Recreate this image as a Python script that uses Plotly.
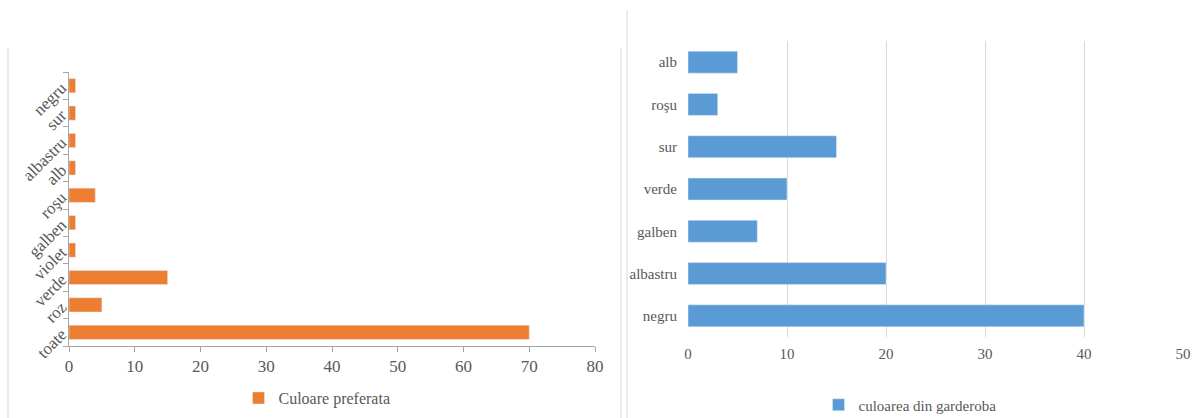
import plotly.graph_objects as go

# left chart data (bottom to top)
pref_cats = ['toate', 'roz', 'verde', 'violet', 'galben', 'roşu', 'alb', 'albastru', 'sur', 'negru']
pref_vals = [70, 5, 15, 1, 1, 4, 1, 1, 1, 1]

# right chart data (bottom to top)
gard_cats = ['negru', 'albastru', 'galben', 'verde', 'sur', 'roşu', 'alb']
gard_vals = [40, 20, 7, 10, 15, 3, 5]

W, H = 1193, 418
txt = '#595959'
serif = 'Liberation Serif, serif'
fnt = dict(family=serif, size=15, color=txt)
left_fnt = dict(family=serif, size=17, color=txt)
leg_fnt = dict(family=serif, size=16, color=txt)
leg2_fnt = dict(family=serif, size=15, color=txt)

fig = go.Figure()

fig.add_trace(go.Bar(
    x=pref_vals, y=pref_cats, orientation='h',
    marker_color='#ED7D31', name='Culoare preferata',
    xaxis='x', yaxis='y', legend='legend', showlegend=True
))
fig.add_trace(go.Bar(
    x=gard_vals, y=gard_cats, orientation='h',
    marker_color='#5B9BD5', name='culoarea din garderoba',
    xaxis='x2', yaxis='y2', legend='legend2', showlegend=True
))

fig.update_layout(
    width=W, height=H,
    margin=dict(l=0, r=0, t=0, b=0, autoexpand=False),
    plot_bgcolor='white', paper_bgcolor='white',
    font=fnt,
    showlegend=True,
    bargap=0.48,
    xaxis=dict(domain=[69 / W, 595 / W], anchor='y', range=[0, 80], dtick=10,
               showgrid=False, zeroline=False, showline=True, linecolor='#a6a6a6',
               ticks='outside', ticklen=5, tickcolor='#a6a6a6', tickfont=left_fnt,
               automargin=False),
    yaxis=dict(domain=[(H - 346) / H, (H - 72) / H], anchor='x',
               categoryorder='array', categoryarray=pref_cats,
               showgrid=False, showline=True, linecolor='#a6a6a6',
               ticks='outside', ticklen=5, tickcolor='#a6a6a6', tickson='boundaries',
               tickangle=-45, ticklabelstandoff=3, tickfont=left_fnt, automargin=False),
    xaxis2=dict(domain=[688 / W, 1183 / W], anchor='y2', range=[0, 50], dtick=10,
                showgrid=True, gridcolor='#d9d9d9', zeroline=False, showline=False,
                ticklabelstandoff=6, tickfont=fnt, automargin=False),
    yaxis2=dict(domain=[(H - 337) / H, (H - 41) / H], anchor='x2',
                categoryorder='array', categoryarray=gard_cats,
                showgrid=False, showline=False, ticklabelstandoff=10, tickfont=fnt,
                automargin=False),
    legend=dict(x=317 / W, y=(H - 398) / H, xanchor='center', yanchor='middle',
                xref='container', yref='container',
                orientation='h', font=leg_fnt, itemwidth=30),
    legend2=dict(x=910 / W, y=(H - 405) / H, xanchor='center', yanchor='middle',
                 xref='container', yref='container',
                 orientation='h', font=leg2_fnt, itemwidth=30),
    shapes=[
        dict(type='line', xref='paper', yref='paper', x0=8 / W, x1=8 / W,
             y0=0, y1=(H - 48) / H, line=dict(color='#d9d9d9', width=1)),
        dict(type='line', xref='paper', yref='paper', x0=621 / W, x1=621 / W,
             y0=0, y1=(H - 48) / H, line=dict(color='#d9d9d9', width=1)),
        dict(type='line', xref='paper', yref='paper', x0=627 / W, x1=627 / W,
             y0=0, y1=(H - 10) / H, line=dict(color='#d9d9d9', width=1)),
    ],
)

fig.write_html("out.html", config={'displayModeBar': False},
               post_script="document.body.style.margin='0';document.body.style.overflow='hidden';")
